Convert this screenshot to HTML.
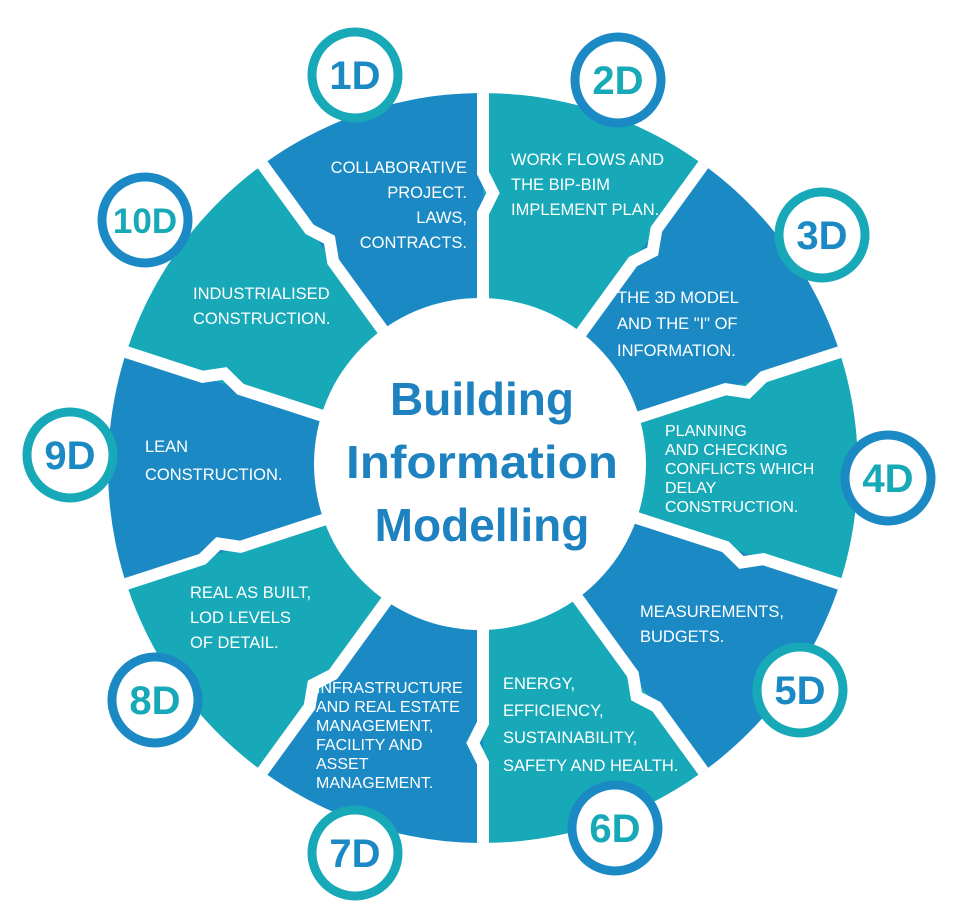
<!DOCTYPE html>
<html><head><meta charset="utf-8"><style>
html,body{margin:0;padding:0;background:#fff;}
svg{display:block;}
.s{font-family:"Liberation Sans",sans-serif;font-size:16.5px;fill:#fff;}
.s2{font-size:16px;}
.b{font-family:"Liberation Sans",sans-serif;font-weight:bold;font-size:40px;text-anchor:middle;}
.c{font-family:"Liberation Sans",sans-serif;font-weight:bold;font-size:46px;fill:#1f82c0;text-anchor:middle;}
</style></head><body>
<svg width="964" height="923" viewBox="0 0 964 923" xmlns="http://www.w3.org/2000/svg">
<defs><clipPath id="w"><circle cx="483" cy="468" r="375"/></clipPath></defs>
<g clip-path="url(#w)">
<circle cx="483" cy="468" r="375" fill="#17a9b8"/>
<g fill="#1b8ac4">
<path id="bw" d="M483,468 L252,150 A393,393 0 0,1 483,75 Z"/>
<use href="#bw" transform="rotate(72 483 468)"/>
<use href="#bw" transform="rotate(144 483 468)"/>
<use href="#bw" transform="rotate(216 483 468)"/>
<use href="#bw" transform="rotate(288 483 468)"/>
</g>
<g fill="none" stroke="#fff" stroke-width="12" stroke-linejoin="miter">
<path id="dv" transform="translate(483 468)" d="M0,-150 L0,-255 L10,-275 L0,-295 L0,-400"/>
<use href="#dv" transform="rotate(36 483 468)"/>
<use href="#dv" transform="rotate(72 483 468)"/>
<use href="#dv" transform="rotate(108 483 468)"/>
<use href="#dv" transform="rotate(144 483 468)"/>
<use href="#dv" transform="rotate(180 483 468)"/>
<use href="#dv" transform="rotate(216 483 468)"/>
<use href="#dv" transform="rotate(252 483 468)"/>
<use href="#dv" transform="rotate(288 483 468)"/>
<use href="#dv" transform="rotate(324 483 468)"/>
</g>
</g>
<circle cx="480" cy="464" r="166" fill="#fff"/>
<text class="c" x="482" y="415">Building</text>
<text class="c" x="482" y="478" textLength="272" lengthAdjust="spacingAndGlyphs">Information</text>
<text class="c" x="482" y="541">Modelling</text>

<g stroke-width="9" fill="#fff">
<circle cx="355" cy="75" r="43" stroke="#17a9b8"/>
<circle cx="618" cy="80" r="43" stroke="#1b8ac4"/>
<circle cx="822" cy="235" r="43" stroke="#17a9b8"/>
<circle cx="888" cy="478" r="43" stroke="#1b8ac4"/>
<circle cx="800" cy="690" r="43" stroke="#17a9b8"/>
<circle cx="615" cy="828" r="43" stroke="#1b8ac4"/>
<circle cx="355" cy="853" r="43" stroke="#17a9b8"/>
<circle cx="155" cy="700" r="43" stroke="#1b8ac4"/>
<circle cx="70" cy="455" r="43" stroke="#17a9b8"/>
<circle cx="145" cy="220" r="43" stroke="#1b8ac4"/>
</g>
<text class="b" x="355" y="89" fill="#1b8ac4">1D</text>
<text class="b" x="618" y="94" fill="#17a9b8">2D</text>
<text class="b" x="822" y="249" fill="#1b8ac4">3D</text>
<text class="b" x="888" y="492" fill="#17a9b8">4D</text>
<text class="b" x="800" y="704" fill="#1b8ac4">5D</text>
<text class="b" x="615" y="842" fill="#17a9b8">6D</text>
<text class="b" x="355" y="867" fill="#1b8ac4">7D</text>
<text class="b" x="155" y="714" fill="#17a9b8">8D</text>
<text class="b" x="70" y="469" fill="#1b8ac4">9D</text>
<text class="b" x="145" y="233" fill="#17a9b8" style="font-size:35px">10D</text>

<g class="s">
<text text-anchor="end" x="467" y="173">COLLABORATIVE</text>
<text text-anchor="end" x="467" y="198">PROJECT.</text>
<text text-anchor="end" x="467" y="223">LAWS,</text>
<text text-anchor="end" x="467" y="248">CONTRACTS.</text>

<text x="511" y="165">WORK FLOWS AND</text>
<text x="511" y="190">THE BIP-BIM</text>
<text x="511" y="215">IMPLEMENT PLAN.</text>

<text x="617" y="303">THE 3D MODEL</text>
<text x="617" y="329">AND THE "I" OF</text>
<text x="617" y="356">INFORMATION.</text>

<g class="s2">
<text x="665" y="436">PLANNING</text>
<text x="665" y="455">AND CHECKING</text>
<text x="665" y="474">CONFLICTS WHICH</text>
<text x="665" y="493">DELAY</text>
<text x="665" y="512">CONSTRUCTION.</text>
</g>

<text x="640" y="617">MEASUREMENTS,</text>
<text x="640" y="642">BUDGETS.</text>

<text x="503" y="689">ENERGY,</text>
<text x="503" y="716">EFFICIENCY,</text>
<text x="503" y="743">SUSTAINABILITY,</text>
<text x="503" y="771">SAFETY AND HEALTH.</text>

<g class="s2">
<text x="316" y="693">INFRASTRUCTURE</text>
<text x="316" y="712">AND REAL ESTATE</text>
<text x="316" y="731">MANAGEMENT,</text>
<text x="316" y="750">FACILITY AND</text>
<text x="316" y="769">ASSET</text>
<text x="316" y="788">MANAGEMENT.</text>
</g>

<text x="190" y="598">REAL AS BUILT,</text>
<text x="190" y="623">LOD LEVELS</text>
<text x="190" y="648">OF DETAIL.</text>

<text x="145" y="452">LEAN</text>
<text x="145" y="480">CONSTRUCTION.</text>

<text x="193" y="299">INDUSTRIALISED</text>
<text x="193" y="324">CONSTRUCTION.</text>
</g>
</svg>
</body></html>
